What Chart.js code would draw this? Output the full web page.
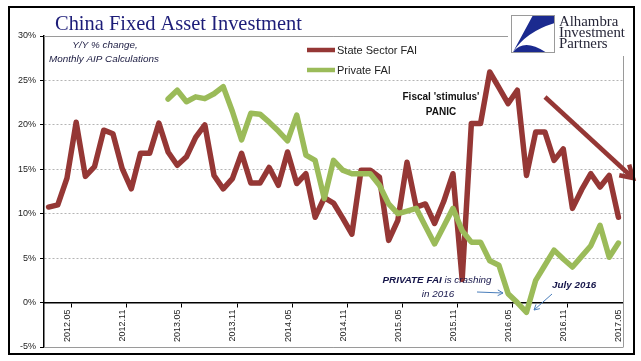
<!DOCTYPE html>
<html>
<head>
<meta charset="utf-8">
<script src="https://cdn.jsdelivr.net/npm/chart.js@4.4.1/dist/chart.umd.min.js"></script>
<style>
  html, body { margin: 0; padding: 0; background: #fff; }
</style>
</head>
<body>
<canvas id="fai" width="641" height="361"></canvas>
<script>
// months on the x axis (Jan-Feb data points included, one per month)
const months = [
  "2012.02","2012.03","2012.04","2012.05","2012.06","2012.07","2012.08","2012.09","2012.10","2012.11","2012.12",
  "2013.01","2013.02","2013.03","2013.04","2013.05","2013.06","2013.07","2013.08","2013.09","2013.10","2013.11","2013.12",
  "2014.01","2014.02","2014.03","2014.04","2014.05","2014.06","2014.07","2014.08","2014.09","2014.10","2014.11","2014.12",
  "2015.01","2015.02","2015.03","2015.04","2015.05","2015.06","2015.07","2015.08","2015.09","2015.10","2015.11","2015.12",
  "2016.01","2016.02","2016.03","2016.04","2016.05","2016.06","2016.07","2016.08","2016.09","2016.10","2016.11","2016.12",
  "2017.01","2017.02","2017.03","2017.04"
];

const tickLabels = ["2012.05","2012.11","2013.05","2013.11","2014.05","2014.11","2015.05","2015.11","2016.05","2016.11","2017.05"];

const stateFai = [
  10.75, 11.0, 14.0, 20.3, 14.2, 15.3, 19.4, 19.0, 15.1, 12.8, 16.8,
  16.8, 20.2, 16.95, 15.45, 16.4, 18.6, 20.0, 14.3, 12.8, 13.95, 16.8, 13.45,
  13.45, 15.2, 13.2, 16.95, 13.4, 14.5, 9.6, 11.8, 11.2, 9.5, 7.7, 14.9,
  14.9, 14.1, 7.0, 9.25, 15.8, 10.75, 11.1, 8.9, 11.4, 14.5, 2.6, 20.15,
  20.15, 25.95, 24.2, 22.4, 23.9, 14.3, 19.2, 19.2, 16.0, 17.3, 10.6, 12.7,
  14.5, 13.0, 14.3, 9.6
];

const privateFai = [
  null, null, null, null, null, null, null, null, null, null, null,
  null, null, 22.9, 23.9, 22.6, 23.15, 22.95, 23.5, 24.3, 21.5, 18.3, 21.3,
  21.2, 20.3, 19.3, 18.2, 21.1, 16.6, 16.0, 11.7, 16.0, 14.9, 14.5, 14.5,
  14.5, 13.2, 11.1, 10.0, 10.3, 10.6, 8.6, 6.6, 8.6, 10.6, 8.1, 6.8,
  6.8, 4.7, 4.2, 1.0, 0.0, -1.1, 2.5, 4.2, 5.9, 4.9, 4.0, 5.2,
  6.4, 8.7, 5.1, 6.7
];

const RED = "#953735";
const GREEN = "#9bbb59";
const NAVY = "#1c1c78";
const SANS = '"Liberation Sans", Arial, sans-serif';
const SERIF = '"Liberation Serif", "Times New Roman", serif';

// tick marks sit on month boundaries (left edge of the labelled month)
const boundaryOf = (lbl) => {
  const i = months.indexOf(lbl);
  return (i < 0 ? months.length : i) - 0.5;
};
const labelAt = (v) => tickLabels.find(l => Math.abs(boundaryOf(l) - v) < 1e-6) || "";

const toPoints = (arr) => arr.map((v, i) => ({ x: i, y: v }));

// scale font size so text fills a given width
function fitFont(ctx, text, style, family, width) {
  ctx.font = `${style} 20px ${family}`;
  const size = 20 * width / ctx.measureText(text).width;
  return `${style} ${size.toFixed(2)}px ${family}`;
}

function arrow(ctx, x1, y1, x2, y2, color, lw, head, spread) {
  const a = Math.atan2(y2 - y1, x2 - x1);
  ctx.save();
  ctx.strokeStyle = color;
  ctx.lineWidth = lw;
  ctx.lineCap = "butt";
  ctx.lineJoin = "miter";
  ctx.beginPath();
  ctx.moveTo(x1, y1);
  ctx.lineTo(x2, y2);
  ctx.stroke();
  ctx.beginPath();
  ctx.moveTo(x2 - head * Math.cos(a - spread), y2 - head * Math.sin(a - spread));
  ctx.lineTo(x2, y2);
  ctx.lineTo(x2 - head * Math.cos(a + spread), y2 - head * Math.sin(a + spread));
  ctx.stroke();
  ctx.restore();
}

function drawLogo(ctx, x, y, w, h) {
  ctx.save();
  ctx.fillStyle = "#fff";
  ctx.fillRect(x - 3, y - 6, 121, h + 10);
  ctx.strokeStyle = "#9a9a9a";
  ctx.lineWidth = 1;
  ctx.strokeRect(x + 0.5, y + 0.5, w, h);
  ctx.fillStyle = "#1b2a8f";
  ctx.beginPath();
  ctx.moveTo(x + w * 0.5, y + 1);
  ctx.lineTo(x + w, y + 1);
  ctx.lineTo(x + w, y + h * 0.22);
  ctx.quadraticCurveTo(x + w * 0.35, y + h * 0.45, x + 2, y + h);
  ctx.closePath();
  ctx.fill();
  ctx.beginPath();
  ctx.moveTo(x + 2, y + h);
  ctx.quadraticCurveTo(x + w * 0.3, y + h * 0.62, x + w * 0.8, y + h);
  ctx.closePath();
  ctx.fill();
  ctx.fillStyle = "#262638";
  ctx.textBaseline = "alphabetic";
  ctx.textAlign = "left";
  ctx.font = fitFont(ctx, "Investment", "", SERIF, 66);
  ctx.fillText("Alhambra", x + w + 5, y + 11);
  ctx.fillText("Investment", x + w + 5, y + 22);
  ctx.fillText("Partners", x + w + 5, y + 33);
  ctx.restore();
}

const decor = {
  id: "decor",
  beforeDraw(chart) {
    const ctx = chart.ctx;
    ctx.save();
    ctx.fillStyle = "#fff";
    ctx.fillRect(0, 0, chart.width, chart.height);
    ctx.restore();
  },
  beforeDatasetsDraw(chart) {
    const { ctx, chartArea: a, scales: { y } } = chart;
    ctx.save();
    ctx.strokeStyle = "#9a9a9a";
    ctx.lineWidth = 1;
    ctx.beginPath();
    const top = Math.round(y.getPixelForValue(30)) + 0.5;
    const bot = Math.round(y.getPixelForValue(-5)) + 0.5;
    ctx.moveTo(a.left, top); ctx.lineTo(a.right, top);
    ctx.moveTo(a.left, bot); ctx.lineTo(a.right, bot);
    ctx.moveTo(Math.round(a.right) + 0.5, top); ctx.lineTo(Math.round(a.right) + 0.5, bot);
    ctx.stroke();
    ctx.restore();
  },
  afterDraw(chart) {
    const ctx = chart.ctx;
    ctx.save();

    // title
    ctx.fillStyle = NAVY;
    ctx.textAlign = "left";
    ctx.textBaseline = "alphabetic";
    ctx.font = fitFont(ctx, "China Fixed Asset Investment", "", SERIF, 247);
    ctx.fillText("China Fixed Asset Investment", 55, 30);

    // subtitle
    ctx.fillStyle = "#1a1a40";
    ctx.textAlign = "center";
    ctx.font = fitFont(ctx, "Monthly AIP Calculations", "italic", SANS, 110);
    ctx.fillText("Y/Y % change,", 105, 48);
    ctx.fillText("Monthly AIP Calculations", 104, 62);

    // legend
    ctx.textAlign = "left";
    ctx.textBaseline = "middle";
    ctx.font = `11px ${SANS}`;
    chart.data.datasets.forEach((ds, k) => {
      const ly = 50 + k * 20;
      ctx.strokeStyle = ds.borderColor;
      ctx.lineWidth = 4.5;
      ctx.beginPath();
      ctx.moveTo(307, ly);
      ctx.lineTo(335, ly);
      ctx.stroke();
      ctx.fillStyle = "#222";
      ctx.fillText(ds.label, 337, ly + 0.5);
    });

    // Fiscal stimulus note
    ctx.textBaseline = "alphabetic";
    ctx.textAlign = "center";
    ctx.fillStyle = "#111";
    ctx.font = fitFont(ctx, "Fiscal 'stimulus'", "bold", SANS, 77);
    ctx.fillText("Fiscal 'stimulus'", 441, 100);
    ctx.fillText("PANIC", 441, 115);

    // red trend arrow
    arrow(ctx, 545, 97, 633, 178, RED, 4.5, 14, 0.55);

    // private FAI note
    ctx.fillStyle = "#16164a";
    ctx.textAlign = "left";
    const p1 = "PRIVATE FAI", p2 = " is crashing";
    const fb = fitFont(ctx, p1 + p2, "italic bold", SANS, 114);
    const size = parseFloat(fb.split(" ")[2]);
    ctx.font = `italic bold ${size}px ${SANS}`;
    const w1 = ctx.measureText(p1).width;
    ctx.font = `italic ${size}px ${SANS}`;
    const w2 = ctx.measureText(p2).width;
    const sx = 437 - (w1 + w2) / 2;
    ctx.font = `italic bold ${size}px ${SANS}`;
    ctx.fillText(p1, sx, 283);
    ctx.font = `italic ${size}px ${SANS}`;
    ctx.fillText(p2, sx + w1, 283);
    ctx.textAlign = "center";
    ctx.fillText("in 2016", 438, 297);

    ctx.font = `italic bold ${size}px ${SANS}`;
    ctx.textAlign = "left";
    ctx.fillText("July 2016", 552, 288);

    arrow(ctx, 477, 292, 503, 293, "#4a7ebb", 1, 6, 0.5);
    arrow(ctx, 552, 294, 534, 310, "#4a7ebb", 1, 6, 0.5);

    // logo
    drawLogo(ctx, 511, 15, 43, 37);

    // outer frame
    ctx.strokeStyle = "#000";
    ctx.lineWidth = 2;
    ctx.strokeRect(9, 7, 625, 347);
    ctx.restore();
  }
};

new Chart(document.getElementById("fai"), {
  type: "line",
  data: {
    datasets: [
      { label: "State Sector FAI", data: toPoints(stateFai), borderColor: RED, order: 1 },
      { label: "Private FAI", data: toPoints(privateFai), borderColor: GREEN, order: 0 }
    ]
  },
  options: {
    responsive: false,
    animation: false,
    devicePixelRatio: 1,
    layout: { padding: { left: 0, top: 36, right: 18, bottom: 14 } },
    plugins: {
      legend: { display: false },
      tooltip: { enabled: false },
      title: { display: false }
    },
    elements: {
      point: { radius: 0 },
      line: { borderWidth: 5.5, borderJoinStyle: "round", borderCapStyle: "round", tension: 0, fill: false }
    },
    scales: {
      x: {
        type: "linear",
        position: { y: 0 },
        min: -0.5,
        max: months.length - 0.5,
        afterBuildTicks: (s) => { s.ticks = tickLabels.map(l => ({ value: boundaryOf(l) })); },
        ticks: {
          autoSkip: false,
          minRotation: 90,
          maxRotation: 90,
          padding: 3,
          labelOffset: -4,
          color: "#222",
          font: { family: SANS, size: 9 },
          callback: (v) => labelAt(v)
        },
        grid: { drawOnChartArea: false, drawTicks: true, tickLength: 4, tickColor: "#000" },
        border: { color: "#000", width: 1.5 }
      },
      y: {
        min: -5,
        max: 30,
        afterFit: (s) => { s.width = 44; },
        ticks: {
          stepSize: 5,
          padding: 4,
          color: "#222",
          font: { family: SANS, size: 9 },
          callback: (v) => v + "%"
        },
        grid: {
          color: (c) => (c.tick && c.tick.value === 0 ? "rgba(0,0,0,0)" : "#b4b4b4"),
          tickColor: "#000",
          tickLength: 4,
          lineWidth: 1
        },
        border: { color: "#000", width: 1.5, dash: [2, 2] }
      }
    }
  },
  plugins: [decor]
});
</script>
</body>
</html>
